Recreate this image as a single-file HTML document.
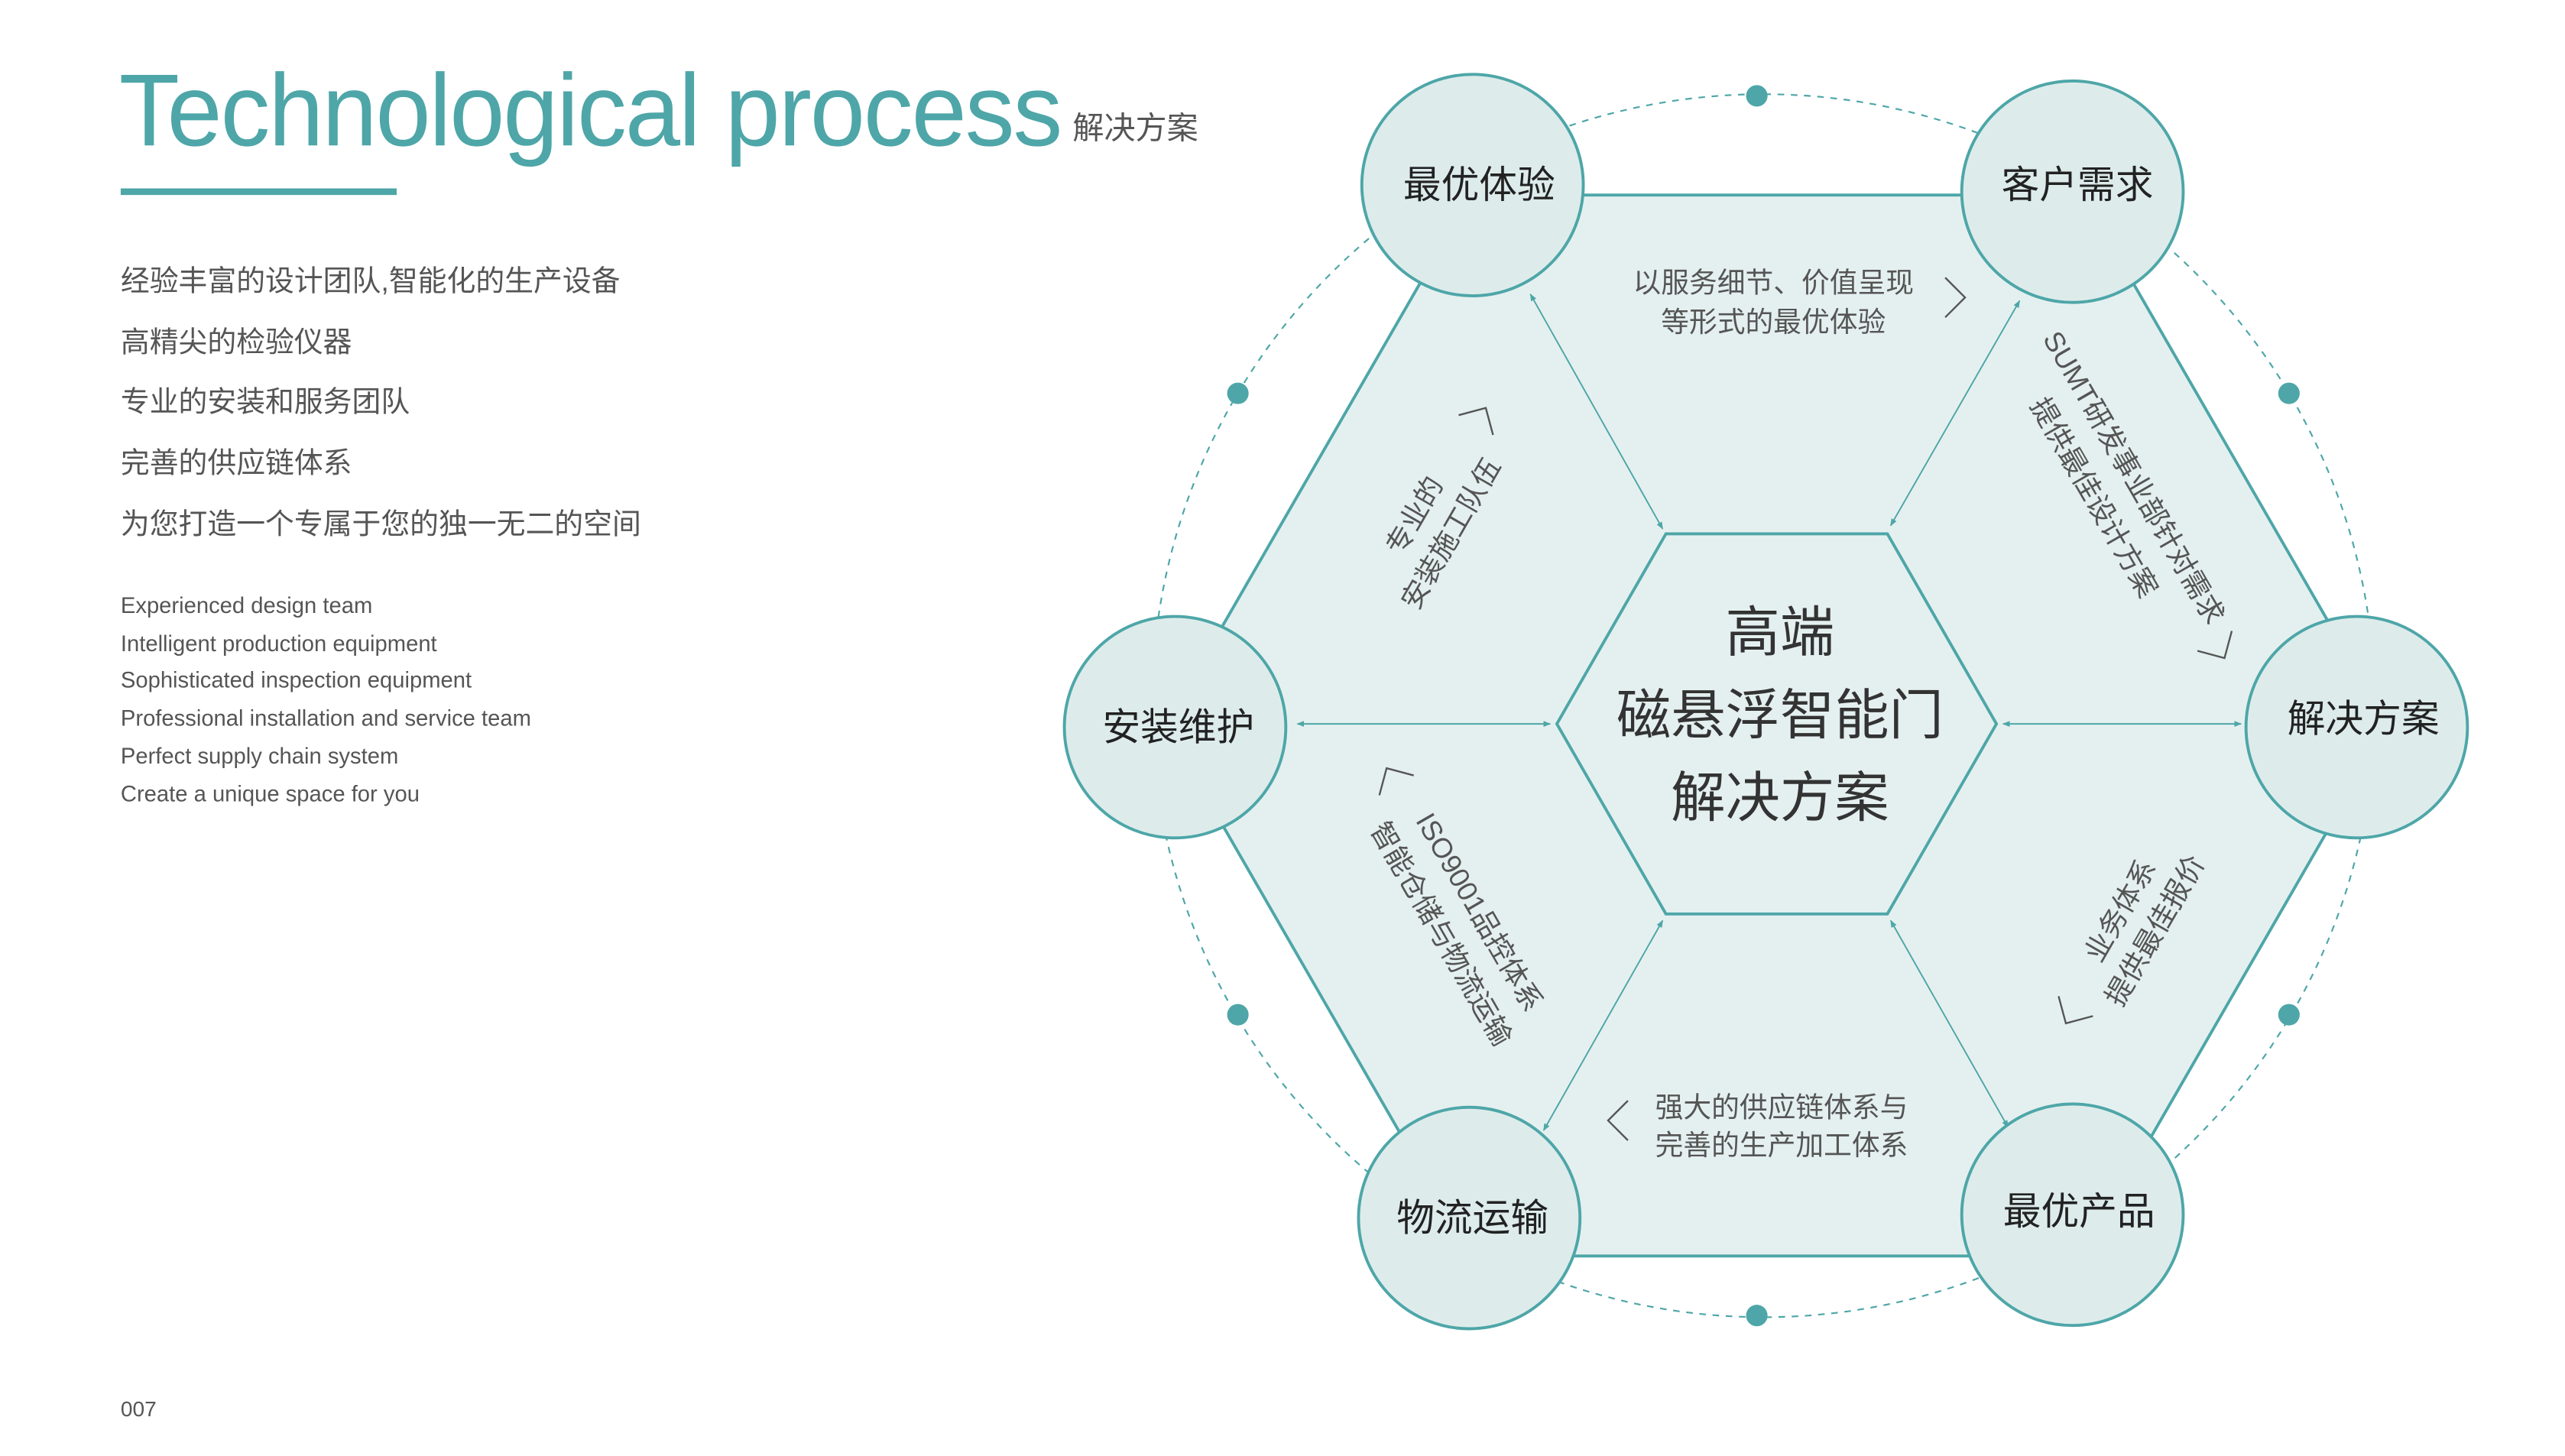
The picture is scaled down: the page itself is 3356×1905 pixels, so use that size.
<!DOCTYPE html>
<html><head><meta charset="utf-8"><style>
html,body{margin:0;padding:0;background:#fff;}
svg{display:block;}
</style></head><body>
<svg width="3356" height="1905" viewBox="0 0 1552 881" xmlns="http://www.w3.org/2000/svg">
<defs>
<marker id="ah" viewBox="0 0 10 10" refX="9" refY="5" markerWidth="5" markerHeight="5" orient="auto-start-reverse">
<path d="M0,1 L10,5 L0,9 z" fill="#4ea6a8"/>
</marker>
</defs>
<g font-family="'Liberation Sans','Noto Sans CJK SC',sans-serif">
<!-- left text -->
<text x="72" y="88" font-size="62" fill="#4ea6a8" letter-spacing="-1" textLength="570" lengthAdjust="spacingAndGlyphs">Technological process</text>
<text x="649" y="84" font-size="19" fill="#555">解决方案</text>
<rect x="73" y="114" width="167" height="4" fill="#4ea6a8"/>
<g font-size="17.5" fill="#555">
<text x="73" y="176">经验丰富的设计团队,智能化的生产设备</text>
<text x="73" y="213">高精尖的检验仪器</text>
<text x="73" y="249">专业的安装和服务团队</text>
<text x="73" y="286">完善的供应链体系</text>
<text x="73" y="323">为您打造一个专属于您的独一无二的空间</text>
</g>
<g font-size="13.5" fill="#555">
<text x="73" y="371">Experienced design team</text>
<text x="73" y="394">Intelligent production equipment</text>
<text x="73" y="416">Sophisticated inspection equipment</text>
<text x="73" y="439">Professional installation and service team</text>
<text x="73" y="462">Perfect supply chain system</text>
<text x="73" y="485">Create a unique space for you</text>
</g>
<text x="73" y="857" font-size="13" fill="#555">007</text>

<!-- dashed circle -->
<circle cx="1067" cy="427" r="370" fill="none" stroke="#4ea6a8" stroke-width="1" stroke-dasharray="4,4"/>
<g fill="#4ea6a8">
<circle cx="1063" cy="58" r="6.5"/><circle cx="749" cy="238" r="6.5"/><circle cx="1385" cy="238" r="6.5"/>
<circle cx="749" cy="614" r="6.5"/><circle cx="1385" cy="614" r="6.5"/><circle cx="1063" cy="796" r="6.5"/>
</g>
<!-- outer hexagon -->
<polygon points="890,118 1260,118 1445,439 1260,760 890,760 705,439" fill="#e4f0ef" stroke="#4ea6a8" stroke-width="1.8"/>
<!-- inner hexagon -->
<polygon points="1008,323 1142,323 1208,438 1142,553 1008,553 942,438" fill="#e4f0ef" stroke="#4ea6a8" stroke-width="1.8"/>
<!-- arrows -->
<g stroke="#4ea6a8" stroke-width="0.9" marker-start="url(#ah)" marker-end="url(#ah)">
<line x1="926" y1="178" x2="1006" y2="320"/>
<line x1="1222" y1="182" x2="1144" y2="318"/>
<line x1="785" y1="438" x2="938" y2="438"/>
<line x1="1212" y1="438" x2="1356" y2="438"/>
<line x1="1006" y1="557" x2="934" y2="684"/>
<line x1="1144" y1="557" x2="1215" y2="682"/>
</g>
<!-- circles -->
<g fill="#ddeceb" stroke="#4ea6a8" stroke-width="1.8">
<circle cx="891" cy="112" r="67"/><circle cx="1254" cy="116" r="67"/>
<circle cx="1426" cy="440" r="67"/><circle cx="1254" cy="735" r="67"/>
<circle cx="889" cy="737" r="67"/><circle cx="711" cy="440" r="67"/>
</g>
<g font-size="23" fill="#222" text-anchor="middle" dominant-baseline="central">
<text x="895" y="112">最优体验</text>
<text x="1257" y="112">客户需求</text>
<text x="1430" y="435">解决方案</text>
<text x="1258" y="733">最优产品</text>
<text x="891" y="737">物流运输</text>
<text x="713" y="440">安装维护</text>
</g>
<g font-size="33" fill="#333" text-anchor="middle" dominant-baseline="central">
<text x="1077" y="383">高端</text>
<text x="1077" y="433">磁悬浮智能门</text>
<text x="1077" y="483">解决方案</text>
</g>
<g font-size="17" fill="#555" text-anchor="middle" dominant-baseline="central">
<text x="1073" y="171">以服务细节、价值呈现</text>
<text x="1073" y="195">等形式的最优体验</text>
<text x="1078" y="670">强大的供应链体系与</text>
<text x="1078" y="693">完善的生产加工体系</text>
<text transform="translate(1291,289) rotate(60)">SUMT研发事业部针对需求</text>
<text transform="translate(1267,301) rotate(60)">提供最佳设计方案</text>
<text transform="translate(895,552) rotate(60)">ISO9001品控体系</text>
<text transform="translate(872,565) rotate(60)">智能仓储与物流运输</text>
<text transform="translate(1283,551) rotate(-60)">业务体系</text>
<text transform="translate(1304,563) rotate(-60)">提供最佳报价</text>
<text transform="translate(856,312) rotate(-60)">专业的</text>
<text transform="translate(878,323) rotate(-60)">安装施工队伍</text>
</g>
<g fill="none" stroke="#555" stroke-width="1.1">
<polyline points="-6,-12 6,0 -6,12" transform="translate(1183,180)"/>
<polyline points="-6,-12 6,0 -6,12" transform="translate(979,678) rotate(180)"/>
<polyline points="-6,-12 6,0 -6,12" transform="translate(1343,393) rotate(60)"/>
<polyline points="-6,-12 6,0 -6,12" transform="translate(842,470) rotate(240)"/>
<polyline points="-6,-12 6,0 -6,12" transform="translate(896,252) rotate(-60)"/>
<polyline points="-6,-12 6,0 -6,12" transform="translate(1253,614) rotate(120)"/>
</g>
</g>
</svg>
</body></html>
